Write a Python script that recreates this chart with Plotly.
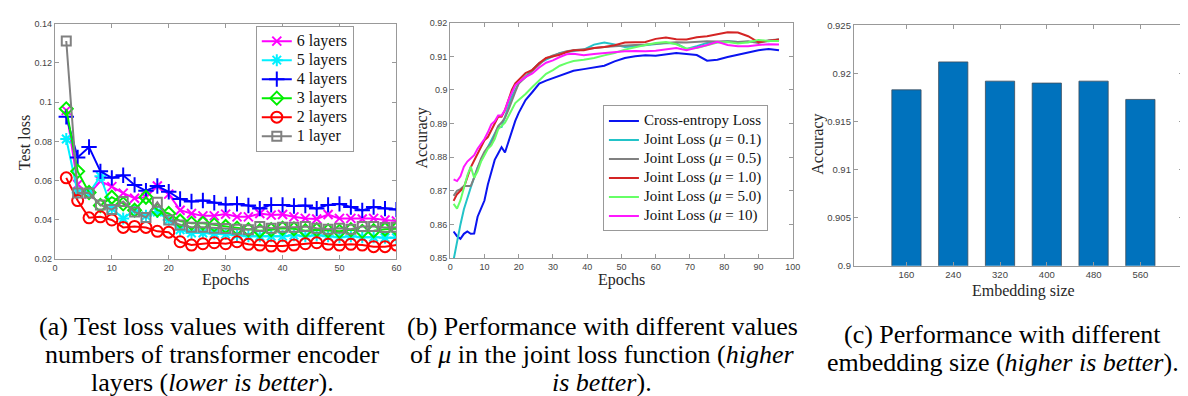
import plotly.graph_objects as go

W, H = 1188, 396
SERIF = "Liberation Serif"
SANS = "Liberation Sans"

# ---------------- (a) test loss vs epochs ----------------
epochs_a = [2, 4, 6, 8, 10, 12, 14, 16, 18, 20, 22, 24, 26, 28, 30,
            32, 34, 36, 38, 40, 42, 44, 46, 48, 50, 52, 54, 56, 58, 60]
loss_6 = [0.0958, 0.0580, 0.0531, 0.0597, 0.0569, 0.0536, 0.0510, 0.0515, 0.0572, 0.0531,
          0.0449, 0.0432, 0.0420, 0.0420, 0.0429, 0.0415, 0.0415, 0.0432, 0.0424, 0.0427,
          0.0415, 0.0407, 0.0404, 0.0427, 0.0407, 0.0407, 0.0404, 0.0407, 0.0399, 0.0394]
loss_5 = [0.0812, 0.0539, 0.0536, 0.0622, 0.0457, 0.0407, 0.0449, 0.0420, 0.0440, 0.0399,
          0.0349, 0.0333, 0.0333, 0.0330, 0.0327, 0.0321, 0.0316, 0.0316, 0.0316, 0.0316,
          0.0321, 0.0316, 0.0321, 0.0316, 0.0311, 0.0316, 0.0311, 0.0311, 0.0308, 0.0308]
loss_4 = [0.0925, 0.0718, 0.0771, 0.0647, 0.0614, 0.0627, 0.0578, 0.0548, 0.0572, 0.0543,
          0.0506, 0.0493, 0.0498, 0.0487, 0.0478, 0.0481, 0.0473, 0.0457, 0.0476, 0.0476,
          0.0470, 0.0473, 0.0457, 0.0476, 0.0481, 0.0465, 0.0448, 0.0465, 0.0457, 0.0452]
loss_3 = [0.0966, 0.0647, 0.0539, 0.0473, 0.0515, 0.0481, 0.0449, 0.0515, 0.0449, 0.0432,
          0.0394, 0.0382, 0.0382, 0.0374, 0.0366, 0.0357, 0.0349, 0.0344, 0.0349, 0.0357,
          0.0354, 0.0344, 0.0349, 0.0344, 0.0341, 0.0349, 0.0341, 0.0344, 0.0352, 0.0354]
loss_2 = [0.0614, 0.0498, 0.0410, 0.0415, 0.0399, 0.0361, 0.0366, 0.0361, 0.0341, 0.0337,
          0.0288, 0.0271, 0.0278, 0.0283, 0.0278, 0.0288, 0.0275, 0.0271, 0.0266, 0.0266,
          0.0271, 0.0278, 0.0283, 0.0275, 0.0271, 0.0275, 0.0271, 0.0263, 0.0263, 0.0271]
loss_1 = [0.1312, 0.0536, 0.0536, 0.0476, 0.0452, 0.0493, 0.0440, 0.0412, 0.0490, 0.0399,
          0.0374, 0.0362, 0.0362, 0.0357, 0.0355, 0.0352, 0.0349, 0.0366, 0.0357, 0.0362,
          0.0362, 0.0366, 0.0357, 0.0352, 0.0357, 0.0352, 0.0366, 0.0366, 0.0361, 0.0362]
names_a = ["6 layers", "5 layers", "4 layers", "3 layers", "2 layers", "1 layer"]
colors_a = ["#ff00ff", "#00f0ff", "#0000ff", "#00ee00", "#ff0000", "#808080"]
symbols_a = ["x-thin-open", "asterisk-open", "cross-thin-open", "diamond-open", "circle-open", "square-open"]
sizes_a = [9, 10, 11, 10, 11, 9]
series_a = [loss_6, loss_5, loss_4, loss_3, loss_2, loss_1]
yticks_a = [0.02, 0.04, 0.06, 0.08, 0.1, 0.12, 0.14]
yticktext_a = ["0.02", "0.04", "0.06", "0.08", "0.1", "0.12", "0.14"]

# ---------------- (b) accuracy vs epochs ----------------
epochs_b = [1, 2, 3, 4, 5, 6, 7, 8, 9, 10, 11, 12, 13, 14, 15, 16, 17, 18, 19, 20,
            22, 24, 26, 28, 30, 32, 34, 36, 39, 42, 45, 48, 51, 54, 57, 60, 63, 66,
            69, 72, 75, 78, 81, 84, 87, 90, 93, 96]
acc_ce = [0.8579, 0.8565, 0.8557, 0.8572, 0.8579, 0.8572, 0.8573, 0.8623, 0.8647, 0.8671,
          0.8719, 0.8758, 0.8792, 0.8811, 0.8830, 0.8814, 0.8845, 0.8879, 0.8908, 0.8932,
          0.8970, 0.8994, 0.9019, 0.9028, 0.9035, 0.9043, 0.9048, 0.9057, 0.9062, 0.9068,
          0.9072, 0.9085, 0.9095, 0.9100, 0.9103, 0.9102, 0.9105, 0.9110, 0.9107, 0.9104,
          0.9087, 0.9090, 0.9098, 0.9105, 0.9110, 0.9118, 0.9122, 0.9118]
acc_01 = [0.8495, 0.8550, 0.8600, 0.8645, 0.8680, 0.8710, 0.8740, 0.8770, 0.8790, 0.8810,
          0.8830, 0.8850, 0.8870, 0.8890, 0.8890, 0.8920, 0.8950, 0.8980, 0.9000, 0.9020,
          0.9040, 0.9060, 0.9080, 0.9090, 0.9100, 0.9110, 0.9113, 0.9115, 0.9120, 0.9135,
          0.9141, 0.9135, 0.9128, 0.9130, 0.9133, 0.9135, 0.9140, 0.9138, 0.9122, 0.9130,
          0.9140, 0.9142, 0.9145, 0.9143, 0.9142, 0.9145, 0.9145, 0.9150]
acc_05 = [0.8685, 0.8700, 0.8705, 0.8714, 0.8714, 0.8714, 0.8739, 0.8768, 0.8796, 0.8816,
          0.8830, 0.8840, 0.8864, 0.8893, 0.8903, 0.8917, 0.8941, 0.8970, 0.8994, 0.9019,
          0.9038, 0.9057, 0.9077, 0.9094, 0.9103, 0.9110, 0.9115, 0.9118, 0.9122, 0.9126,
          0.9128, 0.9130, 0.9133, 0.9134, 0.9135, 0.9137, 0.9140, 0.9142, 0.9141, 0.9143,
          0.9145, 0.9144, 0.9145, 0.9143, 0.9145, 0.9140, 0.9148, 0.9150]
acc_10 = [0.8670, 0.8690, 0.8700, 0.8710, 0.8740, 0.8770, 0.8790, 0.8810, 0.8830, 0.8850,
          0.8860, 0.8880, 0.8900, 0.8920, 0.8920, 0.8940, 0.8970, 0.9000, 0.9020, 0.9030,
          0.9050, 0.9060, 0.9080, 0.9095, 0.9100, 0.9105, 0.9113, 0.9118, 0.9118, 0.9125,
          0.9128, 0.9133, 0.9141, 0.9142, 0.9143, 0.9152, 0.9156, 0.9151, 0.9150, 0.9157,
          0.9160, 0.9166, 0.9172, 0.9171, 0.9160, 0.9142, 0.9146, 0.9150]
acc_50 = [0.8661, 0.8647, 0.8672, 0.8710, 0.8745, 0.8772, 0.8739, 0.8758, 0.8787, 0.8806,
          0.8825, 0.8835, 0.8854, 0.8883, 0.8893, 0.8903, 0.8922, 0.8941, 0.8961, 0.8970,
          0.8988, 0.9009, 0.9028, 0.9048, 0.9059, 0.9072, 0.9080, 0.9086, 0.9090, 0.9095,
          0.9103, 0.9110, 0.9120, 0.9128, 0.9134, 0.9140, 0.9143, 0.9136, 0.9123, 0.9125,
          0.9132, 0.9141, 0.9143, 0.9138, 0.9142, 0.9149, 0.9146, 0.9146]
acc_100 = [0.8734, 0.8729, 0.8743, 0.8772, 0.8787, 0.8797, 0.8806, 0.8825, 0.8840, 0.8854,
           0.8874, 0.8898, 0.8907, 0.8924, 0.8924, 0.8941, 0.8970, 0.8994, 0.9014, 0.9023,
           0.9038, 0.9049, 0.9067, 0.9081, 0.9088, 0.9098, 0.9106, 0.9108, 0.9103, 0.9107,
           0.9110, 0.9112, 0.9115, 0.9116, 0.9115, 0.9117, 0.9120, 0.9125, 0.9118, 0.9125,
           0.9134, 0.9143, 0.9134, 0.9130, 0.9130, 0.9134, 0.9136, 0.9135]
names_b = ["Cross-entropy Loss", "Joint Loss (<i>μ</i> = 0.1)", "Joint Loss (<i>μ</i> = 0.5)",
           "Joint Loss (<i>μ</i> = 1.0)", "Joint Loss (<i>μ</i> = 5.0)", "Joint Loss (<i>μ</i> = 10)"]
colors_b = ["#0a14f0", "#22c3c8", "#808080", "#d42424", "#66ff66", "#ff18ff"]
series_b = [acc_ce, acc_01, acc_05, acc_10, acc_50, acc_100]
yticks_b = [0.85, 0.86, 0.87, 0.88, 0.89, 0.90, 0.91, 0.92]
yticktext_b = ["0.85", "0.86", "0.87", "0.88", "0.89", "0.9", "0.91", "0.92"]

# ---------------- (c) accuracy vs embedding size ----------------
emb_sizes = [160, 240, 320, 400, 480, 560]
emb_acc = [0.9183, 0.9212, 0.9192, 0.9190, 0.9192, 0.9173]
yticks_c = [0.9, 0.905, 0.91, 0.915, 0.92, 0.925]
yticktext_c = ["0.9", "0.905", "0.91", "0.915", "0.92", "0.925"]

captions = [
    (203, [321.5, 350.5, 379], ["(a) Test loss values with different",
                                "numbers of transformer encoder",
                                "layers (<i>lower is better</i>)."]),
    (597, [321.5, 350.5, 379], ["(b) Performance with different values",
                                "of <i>μ</i> in the joint loss function (<i>higher</i>",
                                "<i>is better</i>)."]),
    (1001, [329.5, 358.5], ["(c) Performance with different",
                            "embedding size (<i>higher is better</i>)."]),
]


def px(x):
    return x / W


def py(y):
    return 1 - y / H


def big(txt, size):
    return '<span style="font-size:%spx">%s</span>' % (size, txt)


fig = go.Figure()

for name, ys, col, sym, sz in zip(names_a, series_a, colors_a, symbols_a, sizes_a):
    fig.add_trace(go.Scatter(
        x=epochs_a, y=ys, name=big(name, 16), mode="lines+markers",
        line=dict(color=col, width=2),
        marker=dict(symbol=sym, size=sz, color=col, line=dict(color=col, width=2)),
        xaxis="x", yaxis="y", legend="legend"))

for name, ys, col in zip(names_b, series_b, colors_b):
    fig.add_trace(go.Scatter(
        x=epochs_b, y=ys, name=big(name, 15), mode="lines",
        line=dict(color=col, width=2),
        xaxis="x2", yaxis="y2", legend="legend2"))

fig.add_trace(go.Bar(
    x=emb_sizes, y=emb_acc, width=50, showlegend=False,
    marker=dict(color="#0072bd", line=dict(color="#3c4c5c", width=0.8)),
    xaxis="x3", yaxis="y3"))

axis_common = dict(showgrid=False, zeroline=False, showline=True, linecolor="#999999",
                   linewidth=1, mirror="ticks", ticks="inside", ticklen=4,
                   tickcolor="#999999", tickfont=dict(family=SANS, size=9, color="#444444"))

fig.update_layout(
    width=W, height=H, margin=dict(l=0, r=0, t=0, b=0),
    paper_bgcolor="white", plot_bgcolor="white",
    xaxis=dict(domain=[px(44.3), px(389)], range=[0, 60], dtick=10, anchor="y", **axis_common),
    yaxis=dict(domain=[py(252), py(10)], range=[0.02, 0.14], tickvals=yticks_a,
               ticktext=yticktext_a, anchor="x", **axis_common),
    xaxis2=dict(domain=[px(443.3), px(789)], range=[0, 100], dtick=10, anchor="y2", **axis_common),
    yaxis2=dict(domain=[py(251), py(9)], range=[0.85, 0.92], tickvals=yticks_b,
                ticktext=yticktext_b, anchor="x2", **axis_common),
    xaxis3=dict(domain=[px(850.7), px(1183)], range=[70, 633], tickvals=emb_sizes,
                anchor="y3", **axis_common),
    yaxis3=dict(domain=[py(259), py(11.7)], range=[0.9, 0.925], tickvals=yticks_c,
                ticktext=yticktext_c, anchor="x3", **axis_common),
    legend=dict(x=px(346), y=py(12), xanchor="right", yanchor="top",
                bgcolor="white", bordercolor="#999999", borderwidth=1,
                font=dict(family=SERIF, size=12, color="#111111"),
                tracegroupgap=0, itemwidth=30),
    legend2=dict(x=px(764), y=py(94), xanchor="right", yanchor="top",
                 bgcolor="white", bordercolor="#999999", borderwidth=1,
                 font=dict(family=SERIF, size=11, color="#111111"),
                 tracegroupgap=0, itemwidth=30),
)

fig.update_xaxes(selector=dict(anchor="y3"), tickfont=dict(family=SANS, size=9.5, color="#444444"))
fig.update_yaxes(selector=dict(anchor="x3"), tickfont=dict(family=SANS, size=9.5, color="#444444"))

ann = []
title_font = dict(family=SERIF, size=16, color="#262626")
for txt, x, y, ang in [("Test loss", 13, 132, -90), ("Epochs", 217, 274, 0),
                       ("Accuracy", 415, 128, -90), ("Epochs", 616, 274, 0),
                       ("Accuracy", 815, 134, -90), ("Embedding size", 1022, 285, 0)]:
    ann.append(dict(text=txt, x=px(x), y=py(y), xref="paper", yref="paper",
                    xanchor="center", yanchor="middle", showarrow=False,
                    textangle=ang, font=title_font))

for cx, ys, lines in captions:
    for yy, line in zip(ys, lines):
        ann.append(dict(text=line, x=px(cx), y=py(yy), xref="paper", yref="paper",
                        xanchor="center", yanchor="middle", showarrow=False,
                        font=dict(family=SERIF, size=26, color="#000000")))

fig.update_layout(annotations=ann)

fig.write_html("out.html")
